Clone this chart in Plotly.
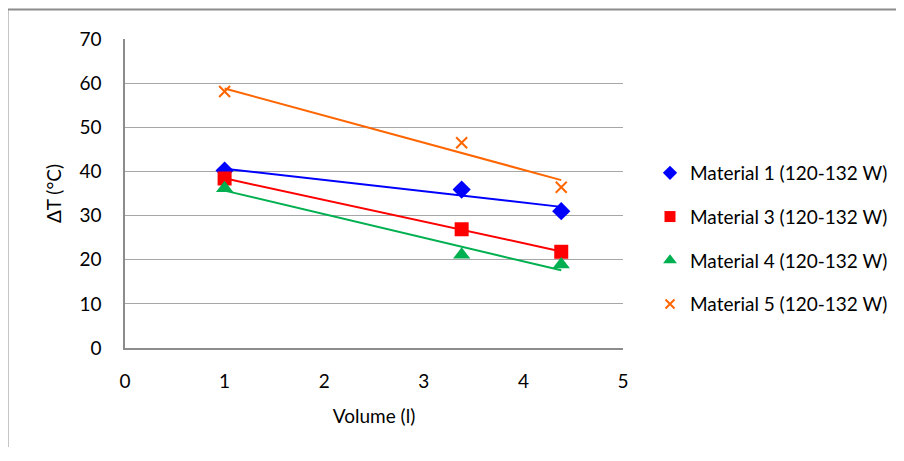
import numpy as np
import plotly.graph_objects as go

volume = [1.0, 3.38, 4.38]
names = ["Material 1 (120-132 W)", "Material 3 (120-132 W)",
         "Material 4 (120-132 W)", "Material 5 (120-132 W)"]
m1 = [40.2, 35.9, 31.0]
m3 = [38.4, 26.9, 21.8]
m4 = [36.2, 21.1, 18.9]
m5 = [58.1, 46.5, 36.4]
series = [m1, m3, m4, m5]
colors = ["#0000ff", "#ff0000", "#00b050", "#ff6600"]
symbols = ["diamond", "square", "triangle-up", "x-thin-open"]
sizes = [14, 14, 15, 11]
legend_sizes = [11, 11, 12, 9]

FONT = "Lato"
OFF = 8  # page body margin
fig = go.Figure()

for name, ys, c in zip(names, series, colors):
    k, b = np.polyfit(volume, ys, 1)
    xs = [min(volume), max(volume)]
    fig.add_trace(go.Scatter(x=xs, y=[k * x + b for x in xs], mode="lines",
                             line=dict(color=c, width=2), showlegend=False,
                             hoverinfo="skip"))

for i, (name, ys, c, s, sz, lsz) in enumerate(zip(names, series, colors, symbols,
                                                   sizes, legend_sizes)):
    marker = dict(symbol=s, size=sz, color=c)
    lmarker = dict(symbol=s, size=lsz, color=c)
    if s.startswith("x-thin"):
        marker["line"] = dict(color=c, width=2)
        lmarker["line"] = dict(color=c, width=2)
    fig.add_trace(go.Scatter(x=volume, y=ys, mode="markers", name=name,
                             marker=marker, showlegend=False))
    fig.add_trace(go.Scatter(x=[None], y=[None], mode="markers", name=name,
                             marker=lmarker, legendgroup=f"g{i}"))

W, H = 904 - 2 * OFF, 461 - 2 * OFF - 6
L, R, T, B = 125, 623, 39, 348
pw, ph = R - L, B - T

def px(x):
    return (x - L) / pw

def py(y):
    return (B - y) / ph

# outer chart border (only left and top edges are visible in the crop)
border = dict(color="#8c8c8c", width=2)
fig.add_shape(type="line", xref="paper", yref="paper",
              x0=px(7.5), x1=px(7.5), y0=py(9.5), y1=py(470), line=border,
              layer="below")
fig.add_shape(type="line", xref="paper", yref="paper",
              x0=px(7.5), x1=px(910), y0=py(9.5), y1=py(9.5), line=border,
              layer="below")

fig.update_layout(
    width=W, height=H,
    margin=dict(l=L - OFF, r=W + OFF - R, t=T - OFF, b=H + OFF - B, pad=0,
                autoexpand=False),
    plot_bgcolor="white", paper_bgcolor="white",
    font=dict(family=FONT, size=19, color="black"),
    showlegend=True,
    legend=dict(x=px(650), y=py(154), xanchor="left", yanchor="top",
                font=dict(family=FONT, size=19, color="black"),
                tracegroupgap=16, itemwidth=30, bgcolor="rgba(0,0,0,0)"),
    xaxis=dict(range=[0, 5], tickvals=[0, 1, 2, 3, 4, 5], showgrid=False,
               showline=True, linecolor="#8c8c8c", linewidth=1.5,
               zeroline=False, ticks="", ticklabelstandoff=15,
               tickfont=dict(family=FONT, size=19),
               title=dict(text="Volume (l)", font=dict(family=FONT, size=19),
                          standoff=19)),
    yaxis=dict(range=[0, 70], tickvals=list(range(0, 80, 10)), showgrid=True,
               gridcolor="#a6a6a6", gridwidth=1,
               showline=True, linecolor="#8c8c8c", linewidth=1.5,
               zeroline=False, ticks="", ticklabelstandoff=18,
               tickfont=dict(family=FONT, size=19),
               title=dict(text="ΔT (°C)", font=dict(family=FONT, size=19),
                          standoff=13)),
)

fig.write_html("out.html")
